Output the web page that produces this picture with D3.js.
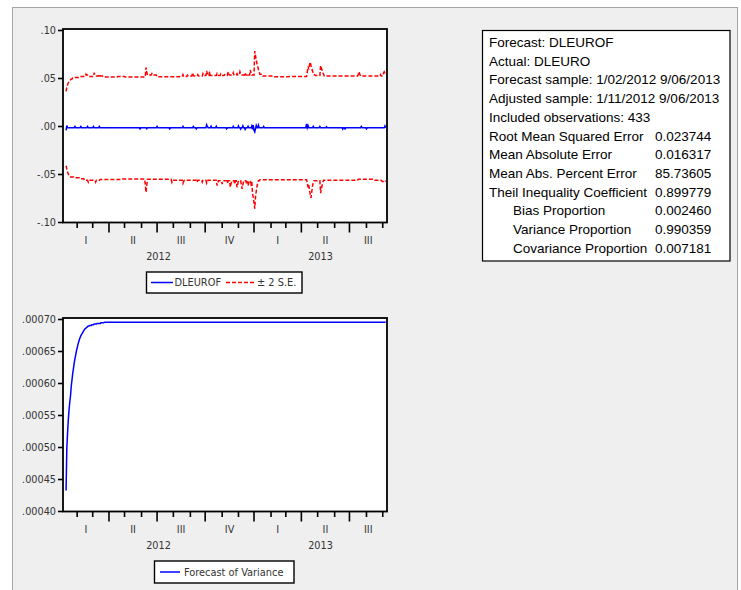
<!DOCTYPE html>
<html><head><meta charset="utf-8">
<script src="https://cdn.jsdelivr.net/npm/d3@7/dist/d3.min.js"></script>
<style>body{margin:0;background:#fff}svg{display:block}</style>
</head><body>
<svg id="c" width="741" height="590"></svg>
<script>
// ---------------- data ----------------
const sampleStart = "2012-01-02";
const sampleEnd = "2013-09-06";
const adjustedStartIndex = 7;            // 1/11/2012 is the 8th business day
const quarterLabels = ["I", "II", "III", "IV"];
const topTicks = [0.10, 0.05, 0.00, -0.05, -0.10];
const bottomTicks = [0.00070, 0.00065, 0.00060, 0.00055, 0.00050, 0.00045, 0.00040];
const legendTop = ["DLEUROF", "\u00b1 2 S.E."];
const legendBottom = ["Forecast of Variance"];
const statLabels = ["Forecast: DLEUROF", "Actual: DLEURO", "Forecast sample: 1/02/2012 9/06/2013",
  "Adjusted sample: 1/11/2012 9/06/2013", "Included observations: 433", "Root Mean Squared Error",
  "Mean Absolute Error", "Mean Abs. Percent Error", "Theil Inequality Coefficient",
  "Bias Proportion", "Variance Proportion", "Covariance Proportion"];
const statValues = ["", "", "", "", "", "0.023744", "0.016317", "85.73605", "0.899779",
  "0.002460", "0.990359", "0.007181"];
const statIndent = [0,0,0,0,0,0,0,0,0,1,1,1];

// series stored as runs [value, number of consecutive observations]
const forecastRuns = [[-0.0045,1],[0.0005,1],[-0.0018,10],[-0.0005,1],[-0.0018,7],[-0.0005,1],[-0.0018,8],
 [-0.0005,1],[-0.0018,7],[-0.0005,1],[-0.0018,7],[-0.0005,1],[-0.0018,54],[-0.003,1],[-0.0018,8],[-0.0028,1],
 [-0.0018,13],[-0.0005,1],[-0.0018,16],[-0.003,1],[-0.0018,17],[-0.0003,1],[-0.0018,13],[-0.0005,1],
 [-0.0018,3],[-0.003,1],[-0.0018,13],[0.0012,1],[-0.0005,1],[-0.0018,4],[-0.0002,1],[-0.0018,6],[-0.0002,1],
 [-0.0018,13],[-0.003,1],[-0.0018,8],[-0.0003,1],[-0.0018,6],[0.0,1],[-0.0018,2],[-0.0032,1],[-0.0018,2],
 [0.0002,1],[-0.0018,2],[-0.0035,1],[-0.0018,3],[-0.0002,1],[-0.0018,4],[0.0,1],[-0.0035,1],[0.0008,1],
 [-0.0045,1],[-0.0062,1],[-0.003,1],[0.0005,1],[-0.0018,2],[0.0008,1],[-0.0018,6],[-0.0005,1],[-0.0018,57],
 [0.0022,1],[-0.0018,1],[0.0005,1],[-0.0018,6],[-0.0003,1],[-0.0018,8],[-0.0005,1],[-0.0018,8],[-0.0008,1],
 [-0.0018,21],[-0.0032,1],[-0.0018,2],[-0.003,1],[-0.0018,21],[-0.0005,1],[-0.0018,6],[-0.003,1],
 [-0.0018,24],[0.0,1],[-0.0018,1]];

const upperRuns = [[0.036,1],[0.040,1],[0.043,1],[0.045,1],[0.046,1],[0.047,1],[0.048,1],[0.049,2],[0.050,3],
 [0.0505,7],[0.0515,8],[0.054,1],[0.053,2],[0.0515,8],[0.0555,1],[0.053,1],[0.052,5],[0.054,1],[0.052,4],
 [0.051,20],[0.0515,10],[0.051,28],[0.061,1],[0.056,1],[0.053,6],[0.0545,1],[0.053,6],[0.0512,31],
 [0.0515,4],[0.0535,1],[0.0515,5],[0.053,1],[0.052,6],[0.0555,1],[0.053,1],[0.052,5],[0.0535,1],[0.052,6],
 [0.0545,1],[0.0525,4],[0.0575,1],[0.054,1],[0.0525,2],[0.0565,1],[0.0525,9],[0.0545,1],[0.0525,4],
 [0.054,1],[0.0525,4],[0.0535,1],[0.0525,4],[0.0565,1],[0.054,1],[0.053,5],[0.0555,1],[0.053,4],[0.0545,1],
 [0.053,3],[0.0565,1],[0.054,1],[0.053,5],[0.0555,1],[0.053,3],[0.0545,1],[0.053,2],[0.0585,1],[0.055,1],
 [0.053,4],[0.078,1],[0.0735,1],[0.069,1],[0.065,1],[0.062,1],[0.059,1],[0.0565,1],[0.054,4],[0.052,15],
 [0.0512,20],[0.0515,25],[0.056,1],[0.062,1],[0.059,1],[0.064,1],[0.0665,1],[0.063,1],[0.060,1],[0.0575,1],
 [0.055,1],[0.0535,2],[0.0525,7],[0.063,1],[0.0605,1],[0.058,1],[0.0555,1],[0.054,1],[0.052,46],[0.054,1],
 [0.0565,1],[0.054,1],[0.052,27],[0.0535,1],[0.052,3],[0.055,1],[0.0565,1],[0.0555,1],[0.0565,1]];

const lowerRuns = [[-0.0414,1],[-0.045,1],[-0.048,1],[-0.050,1],[-0.052,2],[-0.053,5],[-0.054,8],[-0.055,6],
 [-0.0566,5],[-0.0586,1],[-0.0566,9],[-0.0586,1],[-0.0566,5],[-0.0557,30],[-0.0552,31],[-0.060,1],[-0.069,1],
 [-0.062,1],[-0.0555,33],[-0.0586,1],[-0.0565,14],[-0.0597,1],[-0.0575,1],[-0.0565,17],[-0.0586,1],
 [-0.0565,6],[-0.0585,1],[-0.0565,5],[-0.0597,1],[-0.058,1],[-0.0565,12],[-0.062,1],[-0.059,1],[-0.057,5],
 [-0.0605,1],[-0.057,6],[-0.0595,1],[-0.057,3],[-0.0638,1],[-0.060,1],[-0.057,4],[-0.0605,1],[-0.057,2],
 [-0.0638,1],[-0.0605,1],[-0.057,4],[-0.0615,1],[-0.0655,1],[-0.061,1],[-0.057,4],[-0.0605,1],[-0.0575,1],
 [-0.062,1],[-0.0585,1],[-0.057,2],[-0.0605,1],[-0.058,1],[-0.0707,1],[-0.0741,1],[-0.080,1],[-0.0861,1],
 [-0.0741,1],[-0.068,1],[-0.063,1],[-0.0595,1],[-0.057,2],[-0.056,64],[-0.059,1],[-0.064,1],[-0.0615,1],
 [-0.067,1],[-0.071,1],[-0.0748,1],[-0.069,1],[-0.063,1],[-0.059,1],[-0.057,9],[-0.0700,1],[-0.066,1],
 [-0.062,1],[-0.059,1],[-0.0565,47],[-0.0555,20],[-0.0565,12],[-0.0575,2],[-0.0586,2],[-0.0575,2]];

const varianceRuns = [[0.000432,1],[0.000498,1],[0.000522,1],[0.000542,1],[0.000558,1],[0.000570,1],
 [0.000580,1],[0.000595,1],[0.000605,1],[0.000615,1],[0.000623,1],[0.000631,1],[0.000638,1],[0.000644,1],
 [0.000650,1],[0.000655,1],[0.000660,1],[0.000664,1],[0.000668,1],[0.000671,1],[0.000674,1],[0.000676,1],
 [0.000678,1],[0.000680,1],[0.000682,1],[0.000684,1],[0.000685,1],[0.000686,1],[0.000687,1],[0.000688,1],
 [0.000689,2],[0.000690,3],[0.000691,3],[0.000692,4],[0.000693,5],[0.000694,5],[0.000695,381]];

// ---------------- helpers ----------------
const expand = runs => runs.flatMap(([v, n]) => Array(n).fill(v));
const toPoints = vals => vals.map((v, k) => ({ i: adjustedStartIndex + k, v }));

// business-day calendar of the forecast sample
const days = [];
for (let d = new Date(sampleStart + "T00:00:00Z"); d <= new Date(sampleEnd + "T00:00:00Z"); d.setUTCDate(d.getUTCDate() + 1)) {
  const w = d.getUTCDay();
  if (w !== 0 && w !== 6) days.push(new Date(d));
}

const svg = d3.select("#c");
const font = "'DejaVu Sans', Verdana, sans-serif";
const axisColor = "#333";

// panel
svg.append("rect").attr("x", 12.5).attr("y", 7.5).attr("width", 725).attr("height", 600)
  .attr("fill", "#efefef").attr("stroke", "#a5a5a5").attr("stroke-width", 1);

const L = 63, R = 387;
const x = d3.scaleLinear().domain([2.84, 440.75]).range([L, R]);

function timeAxis(g, bottom) {
  const ticks = [];
  for (let i = 1; i < days.length; i++) {
    if (days[i].getUTCMonth() !== days[i - 1].getUTCMonth()) ticks.push(i);
  }
  const inRange = ticks.filter(i => x(i) > L && x(i) < R);
  g.selectAll("line.tk").data(inRange).join("line").attr("class", "tk")
    .attr("x1", i => x(i)).attr("x2", i => x(i))
    .attr("y1", bottom).attr("y2", i => bottom + (days[i].getUTCMonth() % 3 === 0 ? 10 : 5.5))
    .attr("stroke", "#000").attr("stroke-width", 1.6);
  const qStarts = [0, ...ticks.filter(i => days[i].getUTCMonth() % 3 === 0)];
  const quarters = qStarts.map((s, j) => {
    const e = j + 1 < qStarts.length ? qStarts[j + 1] : days.length + 1.75;
    return { a: Math.max(L, x(s)), b: Math.min(R, x(e)), q: Math.floor(days[s].getUTCMonth() / 3) };
  });
  g.selectAll("text.q").data(quarters).join("text").attr("class", "q")
    .attr("x", d => (d.a + d.b) / 2).attr("y", bottom + 21.5)
    .attr("text-anchor", "middle").attr("font-family", font).attr("font-size", 9.7)
    .attr("fill", axisColor).text(d => quarterLabels[d.q]);
  const yStarts = [0, ...ticks.filter(i => days[i].getUTCMonth() === 0)];
  const years = yStarts.map((s, j) => {
    const e = j + 1 < yStarts.length ? yStarts[j + 1] : days.length + 1.75;
    return { a: Math.max(L, x(s)), b: Math.min(R, x(e)), y: days[s].getUTCFullYear() };
  });
  g.selectAll("text.yr").data(years).join("text").attr("class", "yr")
    .attr("x", d => (d.a + d.b) / 2).attr("y", bottom + 37.5)
    .attr("text-anchor", "middle").attr("font-family", font).attr("font-size", 9.7)
    .attr("fill", axisColor).text(d => d.y);
}

function makePanel(y0, y1, domain, ticks, fmt) {
  const g = svg.append("g");
  const y = d3.scaleLinear().domain(domain).range([y1 - 0.5, y0 + 1]);
  g.append("rect").attr("x", L).attr("y", y0).attr("width", R - L).attr("height", y1 - y0)
    .attr("fill", "#fff");
  const ax = g.append("g").attr("transform", `translate(${L},0)`)
    .call(d3.axisLeft(y).tickValues(ticks).tickSize(5).tickPadding(2).tickFormat(fmt));
  ax.select(".domain").remove();
  ax.selectAll(".tick line").attr("stroke", "#000").attr("stroke-width", 1.6);
  ax.selectAll(".tick text").attr("font-family", font).attr("font-size", 9.7).attr("fill", axisColor);
  timeAxis(g, y1);
  return { g, y };
}

const stripZero = s => s.replace(/\u2212/g, "-").replace(/^(-?)0\./, "$1.");
const fmtTop = v => stripZero(d3.format(".2f")(v));
const fmtBot = v => stripZero(d3.format(".5f")(v));
const lineGen = y => d3.line().x(d => x(d.i)).y(d => y(d.v));

// ---- top panel ----
const topP = makePanel(29, 222.5, [-0.10, 0.10], topTicks, fmtTop);
topP.g.append("path").datum(toPoints(expand(upperRuns))).attr("d", lineGen(topP.y))
  .attr("fill", "none").attr("stroke", "#ff0000").attr("stroke-width", 1.5).attr("stroke-dasharray", "4,2");
topP.g.append("path").datum(toPoints(expand(lowerRuns))).attr("d", lineGen(topP.y))
  .attr("fill", "none").attr("stroke", "#ff0000").attr("stroke-width", 1.5).attr("stroke-dasharray", "4,2");
topP.g.append("path").datum(toPoints(expand(forecastRuns))).attr("d", lineGen(topP.y))
  .attr("fill", "none").attr("stroke", "#0000ff").attr("stroke-width", 1.5);
topP.g.append("rect").attr("x", L).attr("y", 29).attr("width", R - L).attr("height", 222.5 - 29)
  .attr("fill", "none").attr("stroke", "#000").attr("stroke-width", 1.8);

// legend top
const lg1 = svg.append("g");
lg1.append("rect").attr("x", 146.5).attr("y", 272).attr("width", 155.5).attr("height", 21)
  .attr("fill", "#fff").attr("stroke", "#000").attr("stroke-width", 1.4);
lg1.append("line").attr("x1", 151).attr("x2", 173).attr("y1", 282.5).attr("y2", 282.5)
  .attr("stroke", "#0000ff").attr("stroke-width", 1.5);
lg1.append("text").attr("x", 174.5).attr("y", 286).attr("font-family", font).attr("font-size", 9.8)
  .attr("fill", axisColor).text(legendTop[0]);
lg1.append("line").attr("x1", 226).attr("x2", 255).attr("y1", 282.5).attr("y2", 282.5)
  .attr("stroke", "#ff0000").attr("stroke-width", 1.5).attr("stroke-dasharray", "4,2");
lg1.append("text").attr("x", 257).attr("y", 286).attr("font-family", font).attr("font-size", 9.8)
  .attr("fill", axisColor).text(legendTop[1]);

// ---- bottom panel ----
const botP = makePanel(318, 511.5, [0.00040, 0.00070], bottomTicks, fmtBot);
botP.g.append("path").datum(toPoints(expand(varianceRuns))).attr("d", lineGen(botP.y))
  .attr("fill", "none").attr("stroke", "#0000ff").attr("stroke-width", 1.5);
botP.g.append("rect").attr("x", L).attr("y", 318).attr("width", R - L).attr("height", 511.5 - 318)
  .attr("fill", "none").attr("stroke", "#000").attr("stroke-width", 1.8);

const lg2 = svg.append("g");
lg2.append("rect").attr("x", 154.5).attr("y", 561).attr("width", 139.5).attr("height", 22)
  .attr("fill", "#fff").attr("stroke", "#000").attr("stroke-width", 1.4);
lg2.append("line").attr("x1", 160).attr("x2", 180).attr("y1", 572).attr("y2", 572)
  .attr("stroke", "#0000ff").attr("stroke-width", 1.5);
lg2.append("text").attr("x", 184).attr("y", 575.5).attr("font-family", font).attr("font-size", 9.8)
  .attr("fill", axisColor).text(legendBottom[0]);

// ---- statistics box ----
const sb = svg.append("g");
sb.append("rect").attr("x", 482.5).attr("y", 30.5).attr("width", 247.5).attr("height", 230.5)
  .attr("fill", "#fff").attr("stroke", "#000").attr("stroke-width", 1.2);
const sfont = "'Liberation Sans', Arial, sans-serif";
statLabels.forEach((t, j) => {
  const yy = 47 + j * 18.7;
  sb.append("text").attr("x", statIndent[j] ? 513 : 489).attr("y", yy)
    .attr("font-family", sfont).attr("font-size", 13.5).attr("fill", "#000").text(t);
  if (statValues[j]) sb.append("text").attr("x", 655).attr("y", yy)
    .attr("font-family", sfont).attr("font-size", 13.5).attr("fill", "#000").text(statValues[j]);
});
</script>
</body></html>
